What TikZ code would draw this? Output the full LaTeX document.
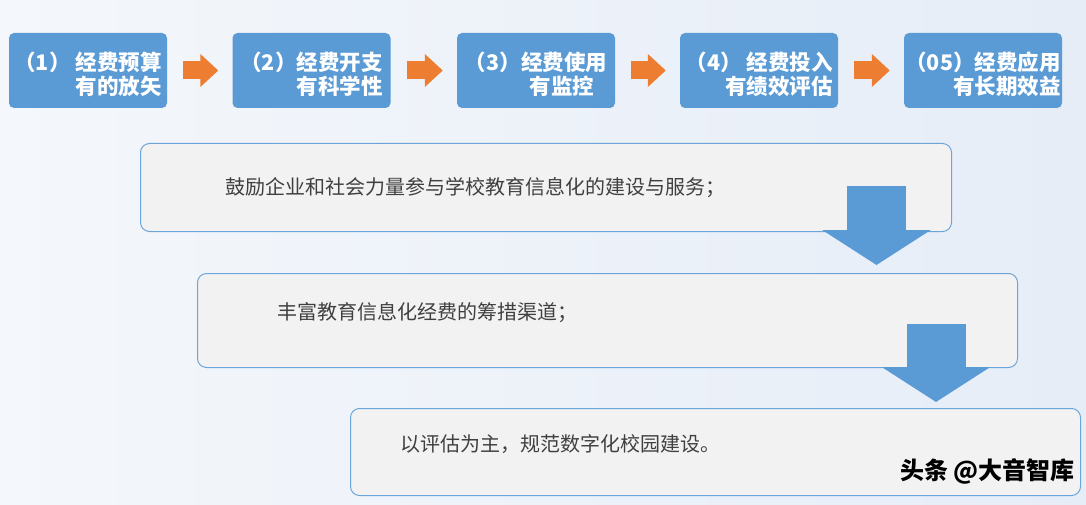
\documentclass[tikz,border=0pt]{standalone}
\usepackage{fontspec}
\setmainfont{Noto Sans CJK SC}
\usetikzlibrary{arrows.meta,positioning}

\definecolor{boxblue}{HTML}{5B9BD5}
\definecolor{arroworange}{HTML}{ED7D31}
\definecolor{panelgray}{HTML}{F2F2F2}
\definecolor{textgray}{HTML}{404040}
\definecolor{bgwhite}{HTML}{F4F7FB}
\definecolor{bgblue}{HTML}{E6EDF7}

\tikzset{
	topbox/.style={fill=boxblue, rounded corners=5pt, minimum width=158pt, minimum height=75pt, inner sep=0pt},
	toptext/.style={text=white, align=right, inner sep=0pt, yshift=-4pt,
		font=\fontsize{21.5}{24}\selectfont\bfseries},
	infobox/.style={draw=boxblue!90, line width=1pt, fill=panelgray, rounded corners=9pt,
		anchor=north west, inner sep=0pt},
	infotext/.style={text=textgray, inner sep=0pt, font=\fontsize{20}{24}\selectfont},
	orangearrow/.style={draw=arroworange, line width=18pt, -{Triangle[length=18pt,width=32pt]},
		shorten <=16pt, shorten >=14pt},
	bluearrow/.style={draw=boxblue, line width=59pt, -{Triangle[length=35pt,width=107pt]}},
}

\begin{document}
\begin{tikzpicture}[x=1pt,y=-1pt]
	\shade[left color=bgwhite, right color=bgblue] (0,0) rectangle (1086,505);
	\useasboundingbox (0,0) rectangle (1086,505);

	\node[topbox] (b1) at (88,70.5) {};
	\node[topbox] (b2) at (311.5,70.5) {};
	\node[topbox] (b3) at (536,70.5) {};
	\node[topbox] (b4) at (759,70.5) {};
	\node[topbox] (b5) at (983,70.5) {};

	\node[toptext] (l1) at (b1) {（1） 经费预算\\有的放矢};
	\node[toptext] (l2) at (b2) {（2）经费开支\\有科学性};
	\node[toptext] (l3) at (b3) {（3）经费使用\\有监控\hspace*{13pt}};
	\node[toptext] (l4) at (b4) {（4） 经费投入\\有绩效评估};
	\node[toptext] (l5) at (b5) {（05）经费应用\\有长期效益};

	\draw[orangearrow] (b1.east) -- (b2.west);
	\draw[orangearrow] (b2.east) -- (b3.west);
	\draw[orangearrow] (b3.east) -- (b4.west);
	\draw[orangearrow] (b4.east) -- (b5.west);

	\node[infobox, minimum width=811pt, minimum height=88pt] (pA) at (140,143) {};
	\node[infobox, minimum width=820pt, minimum height=94pt] (pB) at (197,273) {};
	\node[infobox, minimum width=730pt, minimum height=87pt] (pC) at (350,408) {};

	\node[infotext, anchor=west, right=85pt of pA.west] (tA) {鼓励企业和社会力量参与学校教育信息化的建设与服务；};
	\node[infotext, anchor=west, right=80pt of pB.west, yshift=8pt] (tB) {丰富教育信息化经费的筹措渠道；};
	\node[infotext, anchor=west, right=50pt of pC.west, yshift=8pt] (tC) {以评估为主，规范数字化校园建设。};

	\coordinate (dA) at (876.5,186);
	\coordinate (dB) at (936,324);
	\draw[bluearrow] (dA) -- (dA |- pB.north) [shorten >=8pt];
	\draw[bluearrow] (dB) -- (dB |- pC.north) [shorten >=6pt];

	\node[font=\fontsize{24}{24}\selectfont\bfseries, text=black, anchor=east, inner sep=0pt] (mark) at (1075,471) {头条 @大音智库};
\end{tikzpicture}
\end{document}
